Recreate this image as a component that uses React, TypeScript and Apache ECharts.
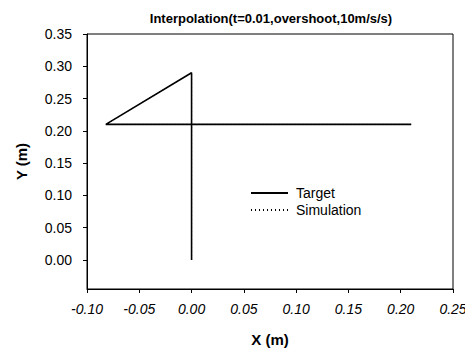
import React, { useEffect, useRef } from "react";
import * as echarts from "echarts";

const titleText = "Interpolation(t=0.01,overshoot,10m/s/s)";
const seriesNames = ["Target", "Simulation"];
const targetX = [0.0, 0.0, -0.082, 0.0, 0.21];
const targetY = [0.0, 0.29, 0.21, 0.21, 0.21];
const simX = [0.0, 0.0, -0.082, 0.0, 0.21];
const simY = [0.0, 0.29, 0.21, 0.21, 0.21];
const yTickValues = [0, 0.05, 0.1, 0.15, 0.2, 0.25, 0.3, 0.35];
const xTickValues = [-0.1, -0.05, 0, 0.05, 0.1, 0.15, 0.2, 0.25];

const FONT = "'Liberation Sans', Arial, sans-serif";

export default function App() {
  const ref = useRef<HTMLDivElement>(null);
  useEffect(() => {
    if (!ref.current) return;
    const chart = echarts.init(ref.current, null, { renderer: "svg" });
    const pts = (xs: number[], ys: number[]) => xs.map((x, i) => [x, ys[i]]);
    chart.setOption({
      animation: false,
      backgroundColor: "#fff",
      title: {
        text: titleText,
        left: 266,
        textAlign: "center",
        top: 7,
        textStyle: { fontFamily: FONT, fontSize: 13, fontWeight: "bold", color: "#000" },
      },
      legend: {
        orient: "vertical",
        left: 245,
        top: 181,
        itemWidth: 37,
        itemHeight: 10,
        itemGap: 3,
        itemStyle: { opacity: 0 },
        textStyle: { fontFamily: FONT, fontSize: 14, color: "#000", padding: [0, 0, 0, 3] },
        data: seriesNames,
      },
      grid: {
        left: 87,
        right: 20,
        top: 34,
        bottom: 61,
        show: true,
        borderColor: "#000",
        borderWidth: 1,
        backgroundColor: "transparent",
      },
      xAxis: {
        type: "value",
        min: -0.1,
        max: 0.25,
        interval: 0.05,
        name: "X (m)",
        nameLocation: "middle",
        nameGap: 43,
        nameTextStyle: { fontFamily: FONT, fontSize: 15, fontWeight: "bold", color: "#000" },
        axisLine: { show: true, onZero: false, lineStyle: { color: "#000", width: 1 } },
        axisTick: { show: true, length: 4, inside: false, customValues: xTickValues, lineStyle: { color: "#000" } },
        splitLine: { show: false },
        axisLabel: {
          customValues: xTickValues,
          fontFamily: FONT,
          fontSize: 14,
          fontStyle: "italic",
          color: "#000",
          margin: 13,
          formatter: (v: number) => v.toFixed(2),
        },
      },
      yAxis: {
        type: "value",
        min: -0.045,
        max: 0.35,
        name: "Y (m)",
        nameLocation: "middle",
        nameGap: 58,
        nameRotate: 90,
        nameTextStyle: { fontFamily: FONT, fontSize: 15, fontWeight: "bold", color: "#000" },
        axisLine: { show: true, onZero: false, lineStyle: { color: "#000", width: 1 } },
        axisTick: { show: true, length: 4, inside: false, customValues: yTickValues, lineStyle: { color: "#000" } },
        splitLine: { show: false },
        axisLabel: {
          customValues: yTickValues,
          fontFamily: FONT,
          fontSize: 14,
          color: "#000",
          margin: 15,
          formatter: (v: number) => v.toFixed(2),
        },
      },
      series: [
        {
          name: seriesNames[0],
          type: "line",
          data: pts(targetX, targetY),
          showSymbol: false,
          symbol: "none",
          lineStyle: { color: "#000", width: 1.6, type: "solid" },
          itemStyle: { color: "#000" },
        },
        {
          name: seriesNames[1],
          type: "line",
          data: pts(simX, simY),
          showSymbol: false,
          symbol: "none",
          lineStyle: { color: "#000", width: 1, type: [1, 3] },
          itemStyle: { color: "#000" },
        },
      ],
    });
    return () => chart.dispose();
  }, []);
  return <div ref={ref} style={{ width: 473, height: 352, marginLeft: -8, marginTop: -8 }} />;
}
